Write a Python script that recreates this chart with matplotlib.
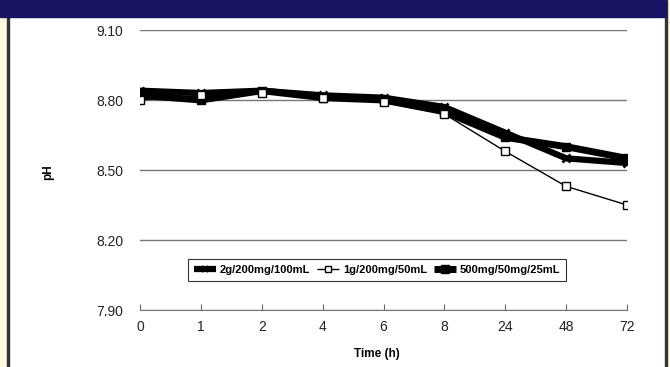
import matplotlib
matplotlib.use("Agg")
import matplotlib.pyplot as plt
from matplotlib.patches import Rectangle
from matplotlib.lines import Line2D

# data
times = ["0", "1", "2", "4", "6", "8", "24", "48", "72"]
ph_2g = [8.84, 8.83, 8.84, 8.82, 8.81, 8.77, 8.66, 8.55, 8.53]
ph_1g = [8.80, 8.82, 8.83, 8.81, 8.79, 8.74, 8.58, 8.43, 8.35]
ph_500mg = [8.82, 8.80, 8.84, 8.81, 8.80, 8.75, 8.64, 8.60, 8.55]
labels = ["2g/200mg/100mL", "1g/200mg/50mL", "500mg/50mg/25mL"]
y_ticks = [7.90, 8.20, 8.50, 8.80, 9.10]

plt.rcParams["font.family"] = ["Liberation Sans", "DejaVu Sans"]

W, H = 670, 367
fig = plt.figure(figsize=(W / 100, H / 100), dpi=100)
fig.patch.set_facecolor("white")

# frame decoration: cream side strips, dark borders, navy header
cream = "#fff7df"
fig.add_artist(Rectangle((0, 0), 7 / W, 1, transform=fig.transFigure, color=cream, zorder=0))
fig.add_artist(Rectangle((667 / W, 0), 3 / W, 1, transform=fig.transFigure, color=cream, zorder=0))
fig.add_artist(Rectangle((7 / W, 0), 1.5 / W, 1, transform=fig.transFigure, color="#333333", zorder=1))
fig.add_artist(Rectangle((665 / W, 0), 1.8 / W, 1, transform=fig.transFigure, color="#333333", zorder=1))
fig.add_artist(Rectangle((0, 1 - 17 / H), 666 / W, 17 / H, transform=fig.transFigure, color="#171463", zorder=2))

ax = fig.add_axes([140 / W, 1 - 310 / H, 487 / W, 280 / H])
x = list(range(len(times)))

ax.plot(x, ph_2g, color="black", lw=4.5, marker="x", ms=6, mew=2, zorder=3)
ax.plot(x, ph_500mg, color="black", lw=5, marker="s", ms=6, mfc="black", zorder=4)
ax.plot(x, ph_1g, color="black", lw=1, marker="s", ms=6, mfc="white", mew=1, zorder=5)

ax.set_xlim(0, len(times) - 1)
ax.set_ylim(7.90, 9.10)
ax.set_yticks(y_ticks)
ax.set_yticklabels([f"{v:.2f}" for v in y_ticks], fontsize=10, color="#222222")
ax.set_xticks(x)
ax.set_xticklabels(times, fontsize=10, color="#222222")
ax.tick_params(axis="y", length=0, pad=12)
ax.tick_params(axis="x", direction="in", length=4, color="#666666", pad=7)
ax.yaxis.grid(True, color="#777777", lw=1)
ax.set_axisbelow(True)
for side in ["left", "right", "top"]:
    ax.spines[side].set_visible(False)
ax.spines["bottom"].set_color("#777777")

fig.text(48 / W, 1 - 172 / H, "pH", fontsize=8.5, fontweight="bold", rotation=90,
         ha="center", va="center")
fig.text(377 / W, 1 - 354 / H, "Time (h)", fontsize=8.5, fontweight="bold",
         ha="center", va="center")

handles = [
    Line2D([], [], color="black", lw=4.5, marker="x", ms=5, mew=1.5, solid_capstyle="butt"),
    Line2D([], [], color="black", lw=1, marker="s", ms=5, mfc="white", solid_capstyle="butt"),
    Line2D([], [], color="black", lw=5, marker="s", ms=6, mfc="black", solid_capstyle="butt"),
]
leg = ax.legend(handles, labels, loc="center", bbox_to_anchor=(0.487, 0.143), ncol=3,
                prop={"weight": "bold", "size": 8}, frameon=True,
                fancybox=False, edgecolor="black", handlelength=2.0, handletextpad=0.35,
                columnspacing=0.6, borderpad=0.5, borderaxespad=0)
leg.get_frame().set_linewidth(0.8)

fig.savefig("out.png", dpi=100)
